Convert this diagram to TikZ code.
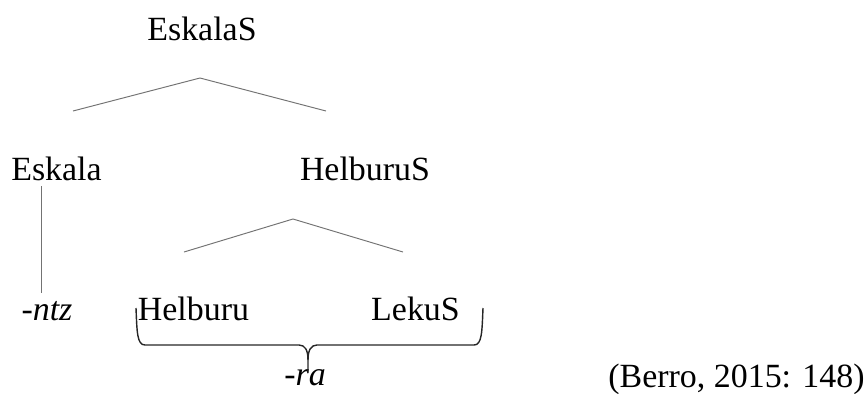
\documentclass[tikz,border=0pt]{standalone}
\usepackage{fontspec}
\setmainfont{Liberation Serif}

\tikzset{
  lbl/.style={anchor=base, inner sep=0pt, font=\fontsize{19.3}{23}\selectfont},
  branch/.style={draw=black!55, line width=0.55pt},
  bracepath/.style={draw=black!85, line width=0.8pt}
}

\begin{document}
\begin{tikzpicture}[x=0.02cm,y=-0.02cm]
\useasboundingbox (0,0) rectangle (866,393);
% labels
\node[lbl] (eskalas) at (202,40) {EskalaS};
\node[lbl] (eskala) at (56.5,180) {Eskala};
\node[lbl] (helburus) at (365,180) {HelburuS};
\node[lbl] (ntz) at (47,320) {\itshape -ntz};
\node[lbl] (helburu) at (193.5,320) {Helburu};
\node[lbl] (lekus) at (415.5,320) {LekuS};
\node[lbl] (ra) at (305,385) {\itshape -ra};
\node[lbl] (berro) at (736.5,387) {(Berro, 2015: 148)};
% branch points
\coordinate (top) at (200,78);
\coordinate (topl) at (73,111);
\coordinate (topr) at (326,111);
\coordinate (mid) at (293,219);
\coordinate (midl) at (184,252);
\coordinate (midr) at (403,252);
\coordinate (stemtop) at (41.5,186);
\coordinate (stembot) at (41.5,293);
\draw[branch] (topl) -- (top) -- (topr);
\draw[branch] (midl) -- (mid) -- (midr);
\draw[branch] (stemtop) -- (stembot);
% brace under Helburu and LekuS
\draw[bracepath] (136,308) .. controls (137,332) and (137,345) .. (145,345) -- (299,345)
  .. controls (305,345) and (308,350) .. (308,360) -- (308,373);
\draw[bracepath] (483,308) .. controls (482,332) and (482,345) .. (474,345) -- (317,345)
  .. controls (311,345) and (308,350) .. (308,360);
\end{tikzpicture}
\end{document}
